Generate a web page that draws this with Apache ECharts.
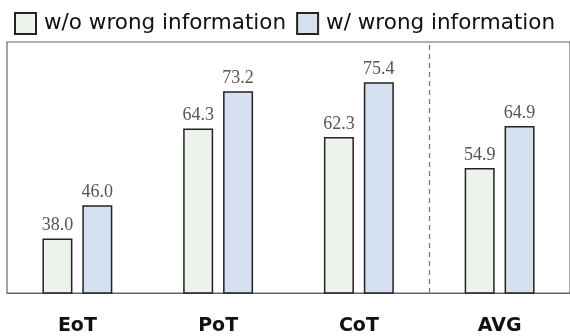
<!DOCTYPE html>
<html>
<head>
<meta charset="utf-8">
<style>
  html, body { margin: 0; padding: 0; background: #fff; }
  #chart { width: 570px; height: 336px; }
</style>
<script src="https://cdn.jsdelivr.net/npm/echarts@6/dist/echarts.min.js"></script>
</head>
<body>
<div id="chart"></div>
<script>
const categories = ['EoT', 'PoT', 'CoT', 'AVG']
const withoutWrong = [38.0, 64.3, 62.3, 54.9]
const withWrong = [46.0, 73.2, 75.4, 64.9]
const seriesNames = ['w/o wrong information', 'w/ wrong information']

const chart = echarts.init(document.getElementById('chart'))

const barLabel = {
  show: true,
  position: 'top',
  distance: 4,
  color: '#555',
  fontFamily: 'Liberation Serif',
  fontSize: 18,
  formatter: (p) => p.value.toFixed(1),
}

// dashed separator sits on the boundary before the AVG group
const sepIndex = categories.indexOf('AVG')

chart.setOption({
  animation: false,
  legend: {
    left: 9,
    top: 7,
    itemWidth: 21,
    itemHeight: 21,
    itemGap: 10,
    icon: 'rect',
    textStyle: { fontFamily: 'DejaVu Sans', fontSize: 21.5, color: '#111', padding: [0, 0, 0, 3] },
    data: seriesNames,
  },
  grid: {
    left: 7,
    right: -2,
    top: 42,
    bottom: 43,
    show: true,
    borderColor: '#666',
    borderWidth: 1.2,
  },
  xAxis: [
    {
      type: 'category',
      data: categories,
      axisLine: { show: true, lineStyle: { color: '#666', width: 1.2 } },
      axisTick: { show: false },
      axisLabel: {
        margin: 24,
        color: '#111',
        fontFamily: 'DejaVu Sans',
        fontWeight: 'bold',
        fontSize: 19,
      },
      splitLine: { show: false },
    },
    {
      type: 'value',
      min: 0,
      max: categories.length,
      show: false,
    },
  ],
  yAxis: {
    type: 'value',
    min: 25,
    max: 85,
    axisLine: { show: false },
    axisTick: { show: false },
    axisLabel: { show: false },
    splitLine: { show: false },
  },
  series: [
    {
      name: seriesNames[0],
      type: 'bar',
      data: withoutWrong,
      barWidth: 30,
      barGap: '33%',
      itemStyle: { color: '#ecf3ea', borderColor: '#222', borderWidth: 1.5 },
      label: barLabel,
    },
    {
      name: seriesNames[1],
      type: 'bar',
      data: withWrong,
      barWidth: 30,
      itemStyle: { color: '#d5e1f1', borderColor: '#222', borderWidth: 1.5 },
      label: barLabel,
    },
    {
      type: 'line',
      xAxisIndex: 1,
      data: [],
      markLine: {
        silent: true,
        symbol: 'none',
        label: { show: false },
        lineStyle: { type: [5, 4], color: '#777', width: 1.2 },
        data: [{ xAxis: sepIndex }],
      },
    },
  ],
})
</script>
</body>
</html>
